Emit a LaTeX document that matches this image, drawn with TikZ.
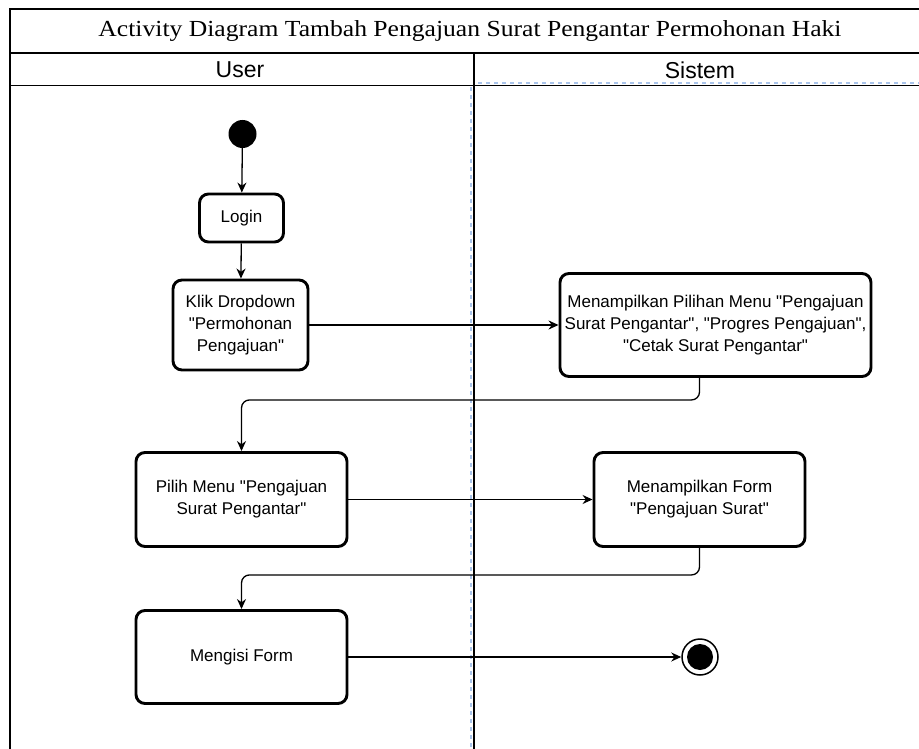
\documentclass[tikz,border=0pt]{standalone}
\usepackage{fontspec}
\setmainfont{Liberation Sans}
\newfontfamily\serifttl{Liberation Serif}
\usetikzlibrary{arrows.meta}
\definecolor{lanedash}{HTML}{A9C4EB}
\newcommand{\dq}{\textquotedbl}
\begin{document}
\begin{tikzpicture}[x=1pt,y=-1pt,
  act/.style={draw, line width=2.9pt, rounded corners=9pt, align=center,
    font=\fontsize{17}{22}\selectfont, inner sep=0pt},
  flow/.style={line width=1.3pt, -{Stealth[length=10pt,width=9pt]}},
  frm/.style={line width=1.6pt},
  ldash/.style={lanedash, line width=1.8pt, dash pattern=on 4pt off 4pt}]
\useasboundingbox (0,0) rectangle (919,749);
\begin{scope}
\clip (0,0) rectangle (919,749);
% lanes
\draw[ldash] (471,87) -- (471,760);
\draw[ldash] (478,83) -- (930,83);
\draw[frm] (10,760) -- (10,9) -- (930,9);
\draw[frm] (10,53) -- (930,53);
\draw[frm] (10,85.5) -- (930,85.5);
\draw[frm] (474,53) -- (474,760);
\end{scope}
\node (title) at (470,31) {\serifttl\resizebox{743pt}{\height}{\fontsize{23}{26}\selectfont Activity Diagram Tambah Pengajuan Surat Pengantar Permohonan Haki}};
\node (user) at (240,70) {\fontsize{23}{26}\selectfont User};
\node (sistem) at (700,70) {\fontsize{23}{26}\selectfont Sistem};
% nodes
\node[circle, fill=black, minimum size=28pt, inner sep=0pt] (start) at (242.5,134) {};
\node[act, minimum width=84pt, minimum height=48pt] (login) at (241.5,218) {Login};
\node[act, minimum width=135pt, minimum height=90pt] (klik) at (240.5,325) {Klik Dropdown\\\dq Permohonan\\Pengajuan\dq};
\node[act, minimum width=311pt, minimum height=103pt] (menu) at (715.5,325) {Menampilkan Pilihan Menu \dq Pengajuan\\Surat Pengantar\dq, \dq Progres Pengajuan\dq,\\\dq Cetak Surat Pengantar\dq};
\node[act, minimum width=211pt, minimum height=94pt] (pilih) at (241.5,499.5) {Pilih Menu \dq Pengajuan\\Surat Pengantar\dq};
\node[act, minimum width=211pt, minimum height=94pt] (form) at (699.5,499.5) {Menampilkan Form\\\dq Pengajuan Surat\dq};
\node[act, minimum width=211pt, minimum height=93pt] (isi) at (241.5,657) {Mengisi Form};
\node[circle, draw, line width=1.5pt, minimum size=36pt, inner sep=0pt] (end) at (700,657) {};
\fill (end.center) circle (13pt);
% flows
\draw[flow] (start) -- (login);
\draw[flow] (login) -- (klik);
\draw[flow] (klik) -- (menu);
\draw[flow, rounded corners=8pt] (menu.south -| form.south) -- ++(0,22) -| (pilih.north);
\draw[flow] (pilih) -- (form);
\draw[flow, rounded corners=8pt] (form.south) -- ++(0,27) -| (isi.north);
\draw[flow] (isi) -- (end);
\end{tikzpicture}
\end{document}
